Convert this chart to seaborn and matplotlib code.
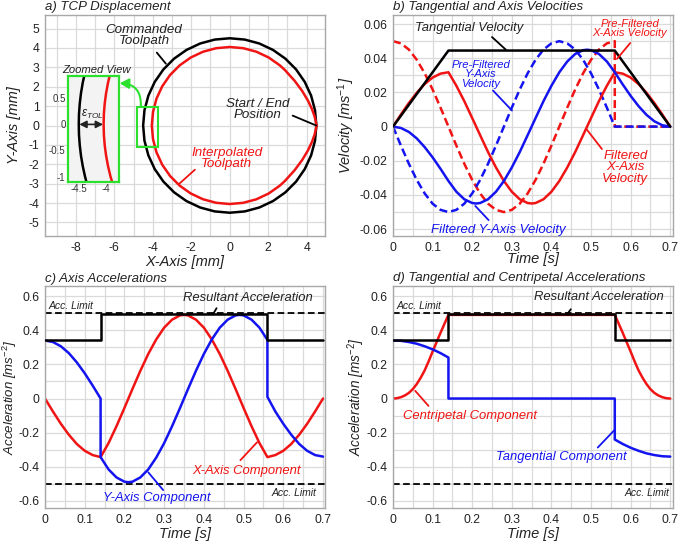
import matplotlib
matplotlib.use("Agg")
import matplotlib.pyplot as plt
import seaborn as sns
from matplotlib.ticker import MultipleLocator
from matplotlib.patches import Rectangle

# ---------------- data: a) TCP displacement ----------------
cmd_x = [4.5, 4.432, 4.229, 3.897, 3.447, 2.893, 2.25, 1.539, 0.781, 0.0, -0.781, -1.539, -2.25, -2.893,
         -3.447, -3.897, -4.229, -4.432, -4.5, -4.432, -4.229, -3.897, -3.447, -2.893, -2.25, -1.539,
         -0.781, 0.0, 0.781, 1.539, 2.25, 2.893, 3.447, 3.897, 4.229, 4.432, 4.5]
cmd_y = [0.0, 0.781, 1.539, 2.25, 2.893, 3.447, 3.897, 4.229, 4.432, 4.5, 4.432, 4.229, 3.897, 3.447,
         2.893, 2.25, 1.539, 0.781, 0.0, -0.781, -1.539, -2.25, -2.893, -3.447, -3.897, -4.229,
         -4.432, -4.5, -4.432, -4.229, -3.897, -3.447, -2.893, -2.25, -1.539, -0.781, 0.0]
interp_x = [4.5, 4.496, 4.471, 4.404, 4.276, 4.070, 3.772, 3.372, 2.864, 2.603, 2.025, 1.385, 0.703, 0.0,
            -0.703, -1.385, -2.025, -2.603, -3.102, -3.507, -3.806, -3.988, -4.05, -3.988, -3.806, -3.507,
            -3.102, -2.603, -2.025, -1.385, -0.703, 0.0, 0.703, 1.385, 2.025, 2.603, 2.864, 3.372, 3.772,
            4.070, 4.276, 4.404, 4.471, 4.496, 4.5]
interp_y = [0.0, 0.055, 0.218, 0.483, 0.839, 1.273, 1.768, 2.306, 2.864, 3.102, 3.507, 3.806, 3.988, 4.05,
            3.988, 3.806, 3.507, 3.102, 2.603, 2.025, 1.385, 0.703, 0.0, -0.703, -1.385, -2.025, -2.603,
            -3.102, -3.507, -3.806, -3.988, -4.05, -3.988, -3.806, -3.507, -3.102, -2.864, -2.306, -1.768,
            -1.273, -0.839, -0.483, -0.218, -0.055, 0.0]
zoom_y = [-1.2, -1.0, -0.8, -0.6, -0.4, -0.2, 0.0, 0.2, 0.4, 0.6, 0.8, 1.0]
zoom_cmd_x = [-4.337, -4.387, -4.428, -4.460, -4.482, -4.496, -4.5, -4.496, -4.482, -4.460, -4.428, -4.387]
zoom_interp_x = [-3.868, -3.925, -3.970, -4.005, -4.030, -4.045, -4.05, -4.045, -4.030, -4.005, -3.970, -3.925]

# ---------------- data: b) velocities ----------------
t_pre = [0.00, 0.02, 0.04, 0.06, 0.08, 0.10, 0.12, 0.14, 0.16, 0.18, 0.20, 0.22, 0.24, 0.26, 0.28, 0.30,
         0.32, 0.34, 0.36, 0.38, 0.40, 0.42, 0.44, 0.46, 0.48, 0.50, 0.52, 0.54, 0.56, 0.56, 0.70]
vx_pre = [0.0500, 0.0487, 0.0451, 0.0391, 0.0312, 0.0217, 0.0111, 0.0000, -0.0111, -0.0217, -0.0312,
          -0.0391, -0.0451, -0.0487, -0.0500, -0.0487, -0.0451, -0.0391, -0.0312, -0.0217, -0.0111, 0.0000,
          0.0111, 0.0217, 0.0312, 0.0391, 0.0451, 0.0487, 0.0500, 0.0, 0.0]
vy_pre = [0.0, -0.0111, -0.0217, -0.0312, -0.0391, -0.0451, -0.0487, -0.0500, -0.0487, -0.0451, -0.0391,
          -0.0312, -0.0217, -0.0111, 0.0, 0.0111, 0.0217, 0.0312, 0.0391, 0.0451, 0.0487, 0.0500, 0.0487,
          0.0451, 0.0391, 0.0312, 0.0217, 0.0111, 0.0, 0.0, 0.0]
t_vx = [0.00, 0.02, 0.04, 0.06, 0.08, 0.10, 0.12, 0.14, 0.16, 0.18, 0.20, 0.22, 0.24, 0.26, 0.28, 0.30,
        0.32, 0.34, 0.35, 0.36, 0.38, 0.40, 0.42, 0.44, 0.46, 0.48, 0.50, 0.52, 0.54, 0.56, 0.58, 0.60,
        0.62, 0.64, 0.66, 0.68, 0.70]
vx_filt = [0.0, 0.0071, 0.0138, 0.0198, 0.0249, 0.0287, 0.0310, 0.0318, 0.0239, 0.0149, 0.0050, -0.0050,
           -0.0149, -0.0239, -0.0318, -0.0381, -0.0425, -0.0447, -0.0450, -0.0447, -0.0425, -0.0381,
           -0.0318, -0.0239, -0.0149, -0.0050, 0.0050, 0.0149, 0.0239, 0.0318, 0.0310, 0.0287, 0.0249,
           0.0198, 0.0138, 0.0071, 0.0]
t_vy = [0.00, 0.02, 0.04, 0.06, 0.08, 0.10, 0.12, 0.14, 0.16, 0.18, 0.20, 0.21, 0.22, 0.24, 0.26, 0.28,
        0.30, 0.32, 0.34, 0.36, 0.38, 0.40, 0.42, 0.44, 0.46, 0.48, 0.49, 0.50, 0.52, 0.54, 0.56, 0.58,
        0.60, 0.62, 0.64, 0.66, 0.68, 0.70]
vy_filt = [0.0, -0.0008, -0.0031, -0.0069, -0.0120, -0.0180, -0.0247, -0.0318, -0.0381, -0.0425, -0.0447,
           -0.0450, -0.0447, -0.0425, -0.0381, -0.0318, -0.0239, -0.0149, -0.0050, 0.0050, 0.0149, 0.0239,
           0.0318, 0.0381, 0.0425, 0.0447, 0.0450, 0.0447, 0.0425, 0.0381, 0.0318, 0.0247, 0.0180, 0.0120,
           0.0069, 0.0031, 0.0008, 0.0]
t_tang = [0.0, 0.14, 0.56, 0.70]
v_tang = [0.0, 0.0445, 0.0445, 0.0]

# ---------------- data: c) axis accelerations ----------------
t_ay = [0.00, 0.02, 0.04, 0.06, 0.08, 0.10, 0.12, 0.14, 0.14, 0.16, 0.18, 0.20, 0.21, 0.22, 0.24, 0.26,
        0.28, 0.30, 0.32, 0.34, 0.36, 0.38, 0.40, 0.42, 0.44, 0.46, 0.48, 0.49, 0.50, 0.52, 0.54, 0.56,
        0.56, 0.58, 0.60, 0.62, 0.64, 0.66, 0.68, 0.70]
a_y = [0.340, 0.331, 0.306, 0.266, 0.212, 0.148, 0.076, 0.0, -0.343, -0.415, -0.462, -0.487, -0.490,
       -0.487, -0.462, -0.415, -0.346, -0.261, -0.162, -0.055, 0.055, 0.162, 0.261, 0.346, 0.415, 0.462,
       0.487, 0.490, 0.487, 0.462, 0.415, 0.343, 0.01, -0.076, -0.148, -0.212, -0.266, -0.306, -0.331,
       -0.340]
t_ax = [0.00, 0.02, 0.04, 0.06, 0.08, 0.10, 0.12, 0.14, 0.16, 0.18, 0.20, 0.22, 0.24, 0.26, 0.28, 0.30,
        0.32, 0.34, 0.35, 0.36, 0.38, 0.40, 0.42, 0.44, 0.46, 0.48, 0.50, 0.52, 0.54, 0.56, 0.58, 0.60,
        0.62, 0.64, 0.66, 0.68, 0.70]
a_x = [0.0, -0.076, -0.148, -0.212, -0.266, -0.306, -0.331, -0.343, -0.261, -0.162, -0.055, 0.055, 0.162,
       0.261, 0.346, 0.415, 0.462, 0.487, 0.490, 0.487, 0.462, 0.415, 0.346, 0.261, 0.162, 0.055, -0.055,
       -0.162, -0.261, -0.343, -0.331, -0.306, -0.266, -0.212, -0.148, -0.076, 0.0]
t_res = [0.0, 0.14, 0.14, 0.56, 0.56, 0.70]
a_res = [0.34, 0.34, 0.495, 0.495, 0.34, 0.34]
t_lim = [0.0, 0.705]
lim_hi = [0.5, 0.5]
lim_lo = [-0.5, -0.5]

# ---------------- data: d) tangential / centripetal ----------------
t_tan = [0.00, 0.02, 0.04, 0.06, 0.08, 0.10, 0.12, 0.14, 0.14, 0.56, 0.56, 0.58, 0.60, 0.62, 0.64, 0.66,
         0.68, 0.70]
a_tan = [0.340, 0.338, 0.331, 0.321, 0.306, 0.288, 0.266, 0.240, 0.0, 0.0, -0.240, -0.266, -0.288, -0.306,
         -0.321, -0.331, -0.338, -0.340]
t_cen = [0.00, 0.01, 0.02, 0.03, 0.04, 0.05, 0.06, 0.07, 0.08, 0.09, 0.10, 0.11, 0.12, 0.13, 0.14,
         0.56, 0.57, 0.58, 0.59, 0.60, 0.61, 0.62, 0.63, 0.64, 0.65, 0.66, 0.67, 0.68, 0.69, 0.70]
a_cen = [0.0, 0.002, 0.008, 0.018, 0.033, 0.055, 0.085, 0.122, 0.165, 0.218, 0.275, 0.330, 0.385, 0.438,
         0.49, 0.49, 0.438, 0.385, 0.330, 0.275, 0.218, 0.165, 0.122, 0.085, 0.055, 0.033, 0.018, 0.008,
         0.002, 0.0]

# ---------------- ticks ----------------
xa_ticks = [-8, -6, -4, -2, 0, 2, 4]
xa_labels = ["-8", "-6", "-4", "-2", "0", "2", "4"]
ya_ticks = [-5, -4, -3, -2, -1, 0, 1, 2, 3, 4, 5]
ya_labels = ["-5", "-4", "-3", "-2", "-1", "0", "1", "2", "3", "4", "5"]
t_ticks = [0, 0.1, 0.2, 0.3, 0.4, 0.5, 0.6, 0.7]
t_labels = ["0", "0.1", "0.2", "0.3", "0.4", "0.5", "0.6", "0.7"]
v_ticks = [-0.06, -0.04, -0.02, 0, 0.02, 0.04, 0.06]
v_labels = ["-0.06", "-0.04", "-0.02", "0", "0.02", "0.04", "0.06"]
acc_ticks = [-0.6, -0.4, -0.2, 0, 0.2, 0.4, 0.6]
acc_labels = ["-0.6", "-0.4", "-0.2", "0", "0.2", "0.4", "0.6"]
zy_ticks = [-1, -0.5, 0, 0.5]
zy_labels = ["-1", "-0.5", "0", "0.5"]
zx_ticks = [-4.5, -4]
zx_labels = ["-4.5", "-4"]

RED = "#f01414"
BLUE = "#1414f0"
BLACK = "#000000"
GREEN = "#2ee02e"
LW = 1.8

sns.set_theme(style="whitegrid")
plt.rcParams.update({
    "font.family": ["Liberation Sans", "DejaVu Sans"],
    "axes.unicode_minus": False,
    "mathtext.fontset": "custom",
    "mathtext.rm": "Liberation Sans",
    "mathtext.it": "Liberation Sans:italic",
    "mathtext.bf": "Liberation Sans:bold",
    "mathtext.sf": "Liberation Sans",
})

W, H = 678, 542
fig = plt.figure(figsize=(W / 100, H / 100), dpi=100)
fig.patch.set_facecolor("white")


def px_axes(l, t, r, b):
    return fig.add_axes([l / W, 1 - b / H, (r - l) / W, (b - t) / H])


axA = px_axes(45, 15, 325, 236)
axB = px_axes(393, 15, 673, 236)
axC = px_axes(45, 286, 325, 508)
axD = px_axes(393, 286, 673, 508)


def style(ax, xlim, ylim, xt, xtl, yt, ytl, xminor, yminor, xlabel, ylabel, ylab_x, xlab_y, title, title_y,
          ylab_size=10.5):
    ax.set_xlim(xlim)
    ax.set_ylim(ylim)
    ax.set_xticks(xt)
    ax.set_xticklabels(xtl)
    ax.set_yticks(yt)
    ax.set_yticklabels(ytl)
    ax.xaxis.set_minor_locator(MultipleLocator(xminor))
    ax.yaxis.set_minor_locator(MultipleLocator(yminor))
    ax.set_axisbelow(True)
    ax.grid(True, which="both", color="#dadada", lw=0.9)
    ax.tick_params(which="both", length=0, labelsize=8.8, pad=4, colors="#222222")
    ax.set_facecolor("white")
    for s in ax.spines.values():
        s.set_visible(True)
        s.set_color("#a8a8a8")
        s.set_linewidth(1.0)
    ax.set_xlabel(xlabel, fontsize=10.5, style="italic", color="#222222")
    ax.set_ylabel(ylabel, fontsize=ylab_size, style="italic", color="#222222")
    ax.xaxis.set_label_coords(0.5, xlab_y)
    ax.xaxis.label.set_va("center")
    ax.yaxis.set_label_coords(ylab_x, 0.5)
    ax.yaxis.label.set_va("center")
    ax.text(0.0, title_y, title, transform=ax.transAxes, ha="left", va="center",
            fontsize=9.5, style="italic", color="#222222")


def line(ax, x, y, color, lw=LW, ls="-", z=2):
    sns.lineplot(x=x, y=y, ax=ax, color=color, lw=lw, linestyle=ls, sort=False,
                 estimator=None, legend=False, zorder=z)


def label(ax, x, y, s, color, size=9.4, ls=0.95):
    ax.text(x, y, s, color=color, fontsize=size, style="italic", ha="center", va="center",
            multialignment="center", linespacing=ls, zorder=6)


def leader(ax, p0, p1, color, lw=1.3):
    ax.annotate("", xy=p1, xytext=p0,
                arrowprops=dict(arrowstyle="-", color=color, lw=lw, shrinkA=0, shrinkB=0), zorder=6)


# ---------------- a) ----------------
line(axA, cmd_x, cmd_y, BLACK)
line(axA, interp_x, interp_y, RED)
style(axA, (-9.6, 4.95), (-5.7, 5.7), xa_ticks, xa_labels, ya_ticks, ya_labels, 1, 1,
      "X-Axis [mm]", "Y-Axis [mm]", -0.11, -0.116, "a) TCP Displacement", 1.036)
label(axA, -4.46, 4.64, "Commanded\nToolpath", "#222222", 9.6)
leader(axA, (-3.79, 3.76), (-3.32, 3.19), BLACK)
label(axA, 1.47, 0.82, "Start / End\nPosition", "#222222", 9.6)
leader(axA, (3.27, 0.51), (4.49, 0.0), BLACK)
label(axA, -0.16, -1.71, "Interpolated\nToolpath", RED, 9.6)
leader(axA, (-1.81, -2.28), (-2.64, -3.02), RED)
label(axA, -6.92, 2.88, "Zoomed View", "#222222", 8.1)
axA.add_patch(Rectangle((-4.82, -1.12), 1.1, 2.1, fill=False, edgecolor=GREEN, lw=1.5, zorder=5))
axA.annotate("", xy=(-5.72, 2.18), xytext=(-4.62, 1.0),
             arrowprops=dict(arrowstyle="-|>,head_length=0.45,head_width=0.25", color=GREEN, lw=1.5,
                             shrinkA=0, shrinkB=0, connectionstyle="arc3,rad=0.5"), zorder=6)

axI = axA.inset_axes([-8.39, -2.9, 2.61, 5.43], transform=axA.transData)
line(axI, zoom_cmd_x, zoom_y, BLACK)
line(axI, zoom_interp_x, zoom_y, RED)
axI.set_xlim(-4.69, -3.78)
axI.set_ylim(-1.1, 0.92)
axI.set_xticks(zx_ticks)
axI.set_xticklabels(zx_labels)
axI.set_yticks(zy_ticks)
axI.set_yticklabels(zy_labels)
axI.grid(False)
axI.set_facecolor("#f3f3f3")
axI.tick_params(length=0, labelsize=7, pad=2, colors="#333333")
axI.set_xlabel("")
axI.set_ylabel("")
for s in axI.spines.values():
    s.set_visible(True)
    s.set_color(GREEN)
    s.set_linewidth(1.6)
axI.annotate("", xy=(-4.06, 0.0), xytext=(-4.49, 0.0),
             arrowprops=dict(arrowstyle="<|-|>,head_length=0.35,head_width=0.18", color="#222222",
                             lw=1.2, shrinkA=0, shrinkB=0))
axI.text(-4.26, 0.2, r"$\varepsilon_{TOL}$", fontsize=8.5, ha="center", va="center", color="#222222")

# ---------------- b) ----------------
line(axB, t_pre, vx_pre, RED, ls=(0, (3.2, 1.6)))
line(axB, t_pre, vy_pre, BLUE, ls=(0, (3.2, 1.6)))
line(axB, t_vx, vx_filt, RED)
line(axB, t_vy, vy_filt, BLUE)
line(axB, t_tang, v_tang, BLACK, z=3)
style(axB, (0, 0.707), (-0.064, 0.0653), t_ticks, t_labels, v_ticks, v_labels, 0.05, 0.01,
      "Time [s]", "Velocity [ms$^{-1}$]", -0.166, -0.105, "b) Tangential and Axis Velocities", 1.036)
label(axB, 0.191, 0.0579, "Tangential Velocity", "#222222", 9.4)
leader(axB, (0.25, 0.0524), (0.285, 0.045), BLACK)
label(axB, 0.222, 0.0305, "Pre-Filtered\nY-Axis\nVelocity", BLUE, 8.1, 0.9)
leader(axB, (0.2525, 0.0211), (0.3005, 0.0094), BLUE)
label(axB, 0.5975, 0.0573, "Pre-Filtered\nX-Axis Velocity", RED, 8.1, 0.9)
leader(axB, (0.599, 0.0489), (0.5655, 0.0396), RED)
label(axB, 0.5865, -0.0239, "Filtered\nX-Axis\nVelocity", RED, 9.5, 0.9)
leader(axB, (0.5275, -0.0131), (0.488, -0.0013), RED)
label(axB, 0.2667, -0.0602, "Filtered Y-Axis Velocity", BLUE, 9.5)
leader(axB, (0.2414, -0.0547), (0.2078, -0.0464), BLUE)

# ---------------- c) ----------------
line(axC, t_lim, lim_hi, BLACK, lw=1.3, ls=(0, (3.7, 1.9)))
line(axC, t_lim, lim_lo, BLACK, lw=1.3, ls=(0, (3.7, 1.9)))
line(axC, t_ax, a_x, RED)
line(axC, t_ay, a_y, BLUE)
line(axC, t_res, a_res, BLACK, z=3)
style(axC, (0, 0.705), (-0.641, 0.659), t_ticks, t_labels, acc_ticks, acc_labels, 0.05, 0.1,
      "Time [s]", "Acceleration [ms$^{-2}$]", -0.124, -0.117, "c) Axis Accelerations", 1.030, 9.5)
axC.text(0.008, 0.543, "Acc. Limit", fontsize=7.5, style="italic", ha="left", va="center", color="#222222")
axC.text(0.683, -0.556, "Acc. Limit", fontsize=7.5, style="italic", ha="right", va="center", color="#222222")
label(axC, 0.511, 0.588, "Resultant Acceleration", "#222222", 9.4)
leader(axC, (0.432, 0.529), (0.423, 0.494), BLACK)
label(axC, 0.507, -0.427, "X-Axis Component", RED, 9.4)
leader(axC, (0.492, -0.361), (0.534, -0.256), RED)
label(axC, 0.281, -0.58, "Y-Axis Component", BLUE, 9.4)
leader(axC, (0.2975, -0.536), (0.26, -0.432), BLUE)

# ---------------- d) ----------------
line(axD, t_lim, lim_hi, BLACK, lw=1.3, ls=(0, (3.7, 1.9)))
line(axD, t_lim, lim_lo, BLACK, lw=1.3, ls=(0, (3.7, 1.9)))
line(axD, t_cen, a_cen, RED)
line(axD, t_tan, a_tan, BLUE)
line(axD, t_res, a_res, BLACK, z=3)
style(axD, (0, 0.707), (-0.641, 0.659), t_ticks, t_labels, acc_ticks, acc_labels, 0.05, 0.1,
      "Time [s]", "Acceleration [ms$^{-2}$]", -0.13, -0.117,
      "d) Tangential and Centripetal Accelerations", 1.037, 9.8)
axD.text(0.009, 0.543, "Acc. Limit", fontsize=7.5, style="italic", ha="left", va="center", color="#222222")
axD.text(0.699, -0.556, "Acc. Limit", fontsize=7.5, style="italic", ha="right", va="center", color="#222222")
label(axD, 0.52, 0.594, "Resultant Acceleration", "#222222", 9.4)
leader(axD, (0.449, 0.523), (0.44, 0.494), BLACK)
label(axD, 0.194, -0.105, "Centripetal Component", RED, 9.4)
leader(axD, (0.0896, -0.043), (0.0561, 0.045), RED)
label(axD, 0.424, -0.34, "Tangential Component", BLUE, 9.4)
leader(axD, (0.517, -0.287), (0.559, -0.185), BLUE)

fig.savefig("out.png", dpi=100, facecolor="white")
